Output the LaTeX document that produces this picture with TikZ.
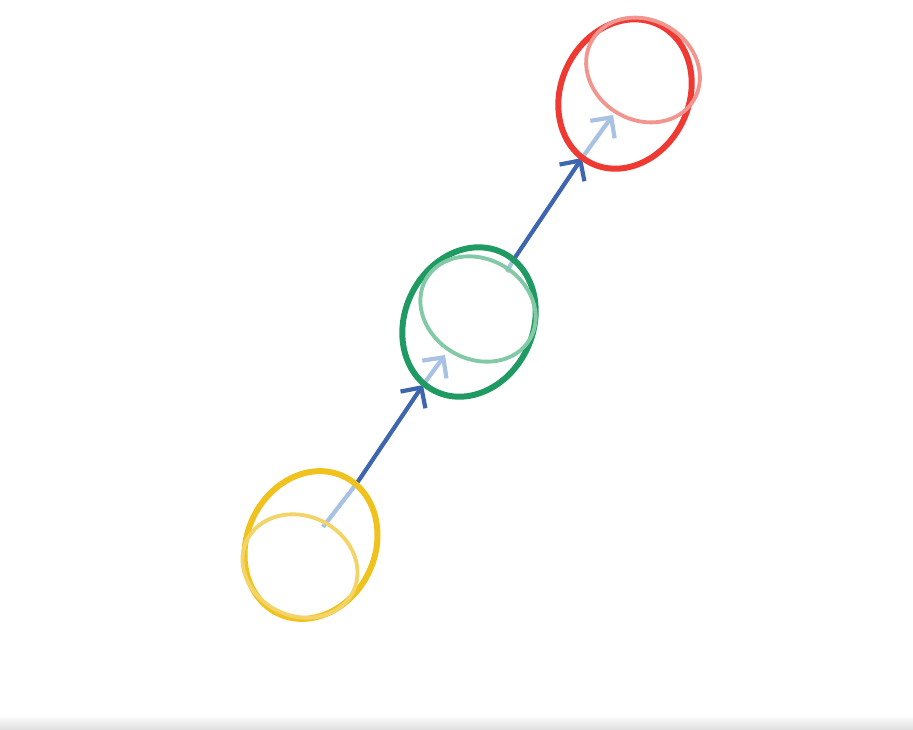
\documentclass[tikz,border=0pt]{standalone}
\usepackage{tikz}
\usetikzlibrary{arrows.meta}
\definecolor{Amarillo}{HTML}{F0C21E}
\definecolor{AmarilloClaro}{HTML}{F3D469}
\definecolor{Verde}{HTML}{1F9A63}
\definecolor{VerdeClaro}{HTML}{82C9A5}
\definecolor{Rojo}{HTML}{EE3A33}
\definecolor{RojoClaro}{HTML}{F3958F}
\definecolor{Azul}{HTML}{3E66AE}
\definecolor{AzulClaro}{HTML}{A8C2E4}

\begin{document}
\begin{tikzpicture}[
  anillo/.style={line width=1.7pt},
  anilloclaro/.style={line width=1.1pt},
  tramo/.style={line width=1.2pt,Azul},
  tramoclaro/.style={line width=1.2pt,AzulClaro},
  punta/.style={-{Straight Barb[length=1.5mm,width=3mm]}}
]
  \useasboundingbox (0,0) rectangle (9.13,7.29);
  % franja gris inferior
  \shade[top color=white,bottom color=black!12] (0,0) rectangle (9.13,0.14);

  % puntos de los tramos
  \coordinate (ya)  at (3.23,2.02);
  \coordinate (yb)  at (3.57,2.46);
  \coordinate (gb1) at (4.23,3.44);
  \coordinate (ge)  at (4.45,3.74);
  \coordinate (gs)  at (5.07,4.57);
  \coordinate (gb2) at (5.12,4.67);
  \coordinate (rb)  at (5.82,5.71);
  \coordinate (re)  at (6.13,6.14);

  % tramo amarillo -> verde
  \draw[tramoclaro] (ya) -- (yb);
  \draw[tramo,punta] (yb) -- (gb1);
  \draw[tramoclaro,punta] (gb1) -- (ge);
  % tramo verde -> rojo
  \draw[tramoclaro] (gs) -- (gb2);
  \draw[tramo,punta] (gb2) -- (rb);
  \draw[tramoclaro,punta] (rb) -- (re);

  % anillos
  \draw[anillo,Amarillo,rotate around={-26:(3.11,1.84)}] (3.11,1.84) ellipse (0.64 and 0.76);
  \draw[anilloclaro,AmarilloClaro,rotate around={-25:(3.00,1.63)}] (3.00,1.63) ellipse (0.59 and 0.50);
  \draw[anillo,Verde,rotate around={-26:(4.69,4.07)}] (4.69,4.07) ellipse (0.64 and 0.77);
  \draw[anilloclaro,VerdeClaro,rotate around={-30:(4.78,4.20)}] (4.78,4.20) ellipse (0.60 and 0.50);
  \draw[anillo,Rojo,rotate around={-26:(6.25,6.35)}] (6.25,6.35) ellipse (0.64 and 0.77);
  \draw[anilloclaro,RojoClaro,rotate around={-30:(6.43,6.59)}] (6.43,6.59) ellipse (0.59 and 0.50);
\end{tikzpicture}
\end{document}
